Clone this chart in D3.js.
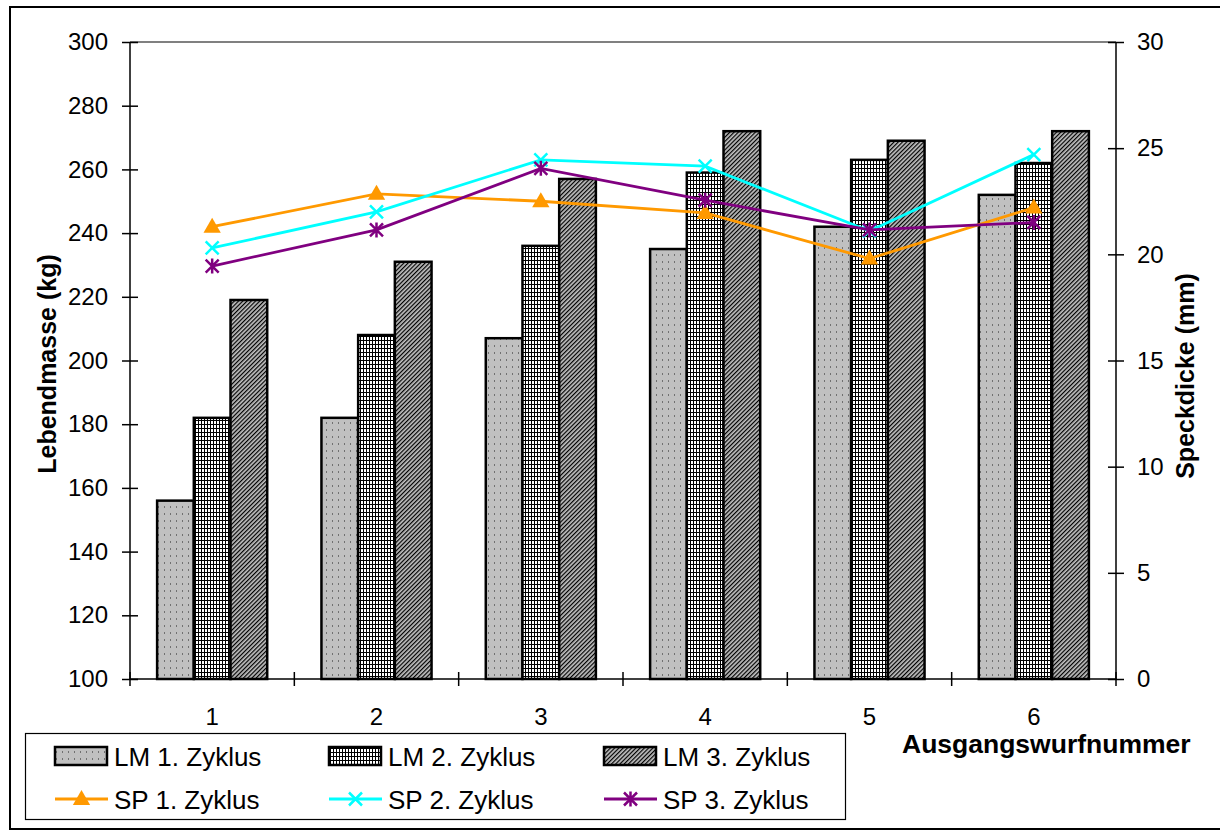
<!DOCTYPE html>
<html>
<head>
<meta charset="utf-8">
<script src="https://cdn.jsdelivr.net/npm/d3@7"></script>
<style>
  html, body { margin: 0; padding: 0; background: #fff; }
  text { font-family: "Liberation Sans", Arial, sans-serif; fill: #000; }
</style>
</head>
<body>
<svg id="chart" width="1220" height="835"></svg>
<script>
// Ausgangswurfnummer (litter number)
const categories = ["1", "2", "3", "4", "5", "6"];

// Lebendmasse (kg) per cycle
const lm1 = [156, 182, 207, 235, 242, 252];
const lm2 = [182, 208, 236, 259, 263, 262];
const lm3 = [219, 231, 257, 272, 269, 272];

// Speckdicke (mm) per cycle
const sp1 = [21.3, 22.85, 22.5, 21.95, 19.8, 22.2];
const sp2 = [20.3, 22.0, 24.45, 24.15, 21.1, 24.7];
const sp3 = [19.45, 21.15, 24.05, 22.55, 21.15, 21.5];

const lmTicks = [100, 120, 140, 160, 180, 200, 220, 240, 260, 280, 300];
const spTicks = [0, 5, 10, 15, 20, 25, 30];

const barSeries = [
  { name: "LM 1. Zyklus", values: lm1, fill: "url(#patDots)" },
  { name: "LM 2. Zyklus", values: lm2, fill: "url(#patGrid)" },
  { name: "LM 3. Zyklus", values: lm3, fill: "url(#patDiag)" }
];
const lineSeries = [
  { name: "SP 1. Zyklus", values: sp1, color: "#FF9900", marker: "triangle" },
  { name: "SP 2. Zyklus", values: sp2, color: "#00FFFF", marker: "x" },
  { name: "SP 3. Zyklus", values: sp3, color: "#800080", marker: "star" }
];

const svg = d3.select("#chart");
const plot = { left: 130, right: 1116, top: 42, bottom: 679 };

// fill patterns
const defs = svg.append("defs");
const pd = defs.append("pattern").attr("id", "patDots").attr("patternUnits", "userSpaceOnUse")
  .attr("width", 6).attr("height", 7);
pd.append("rect").attr("width", 6).attr("height", 7).attr("fill", "#c0c0c0");
pd.append("rect").attr("x", 2).attr("y", 2).attr("width", 1).attr("height", 2).attr("fill", "#707070");

const pg = defs.append("pattern").attr("id", "patGrid").attr("patternUnits", "userSpaceOnUse")
  .attr("width", 3).attr("height", 4);
pg.append("rect").attr("width", 3).attr("height", 4).attr("fill", "#fff");
pg.append("rect").attr("x", 0).attr("y", 0).attr("width", 1).attr("height", 4).attr("fill", "#000");
pg.append("rect").attr("x", 0).attr("y", 0).attr("width", 3).attr("height", 1).attr("fill", "#000");

const pdg = defs.append("pattern").attr("id", "patDiag").attr("patternUnits", "userSpaceOnUse")
  .attr("width", 3).attr("height", 3).attr("patternTransform", "rotate(45)");
pdg.append("rect").attr("width", 3).attr("height", 3).attr("fill", "#c0c0c0");
pdg.append("line").attr("x1", 0.6).attr("y1", 0).attr("x2", 0.6).attr("y2", 3)
  .attr("stroke", "#000").attr("stroke-width", 1.2);

svg.append("rect").attr("width", 1220).attr("height", 835).attr("fill", "#fff");
// outer chart frame
svg.append("rect").attr("x", 10).attr("y", 7).attr("width", 1215).attr("height", 822)
  .attr("fill", "none").attr("stroke", "#000").attr("stroke-width", 2);

// scales
const x = d3.scaleBand().domain(categories).range([plot.left, plot.right]).padding(0);
const bw = x.bandwidth();
const xs = d3.scaleBand().domain(barSeries.map(d => d.name)).range([bw * 0.165, bw * 0.835]).padding(0);
const yL = d3.scaleLinear().domain([100, 300]).range([plot.bottom, plot.top]);
const yR = d3.scaleLinear().domain([0, 30]).range([plot.bottom, plot.top]);

// plot area top border
svg.append("line").attr("x1", plot.left).attr("x2", plot.right)
  .attr("y1", plot.top).attr("y2", plot.top).attr("stroke", "#808080").attr("stroke-width", 2);

// bars
barSeries.forEach(s => {
  svg.append("g").selectAll("rect").data(s.values).join("rect")
    .attr("x", (d, i) => x(categories[i]) + xs(s.name))
    .attr("width", xs.bandwidth())
    .attr("y", d => yL(d))
    .attr("height", d => yL(100) - yL(d))
    .attr("fill", s.fill)
    .attr("stroke", "#000").attr("stroke-width", 2.5);
});

// markers
function drawMarker(g, type, color, cx, cy) {
  if (type === "triangle") {
    g.append("path").attr("d", d3.symbol().type(d3.symbolTriangle).size(130)())
      .attr("transform", `translate(${cx},${cy + 1})`).attr("fill", color);
  } else if (type === "x") {
    const r = 6.5;
    g.append("path").attr("d", `M${cx - r},${cy - r}L${cx + r},${cy + r}M${cx - r},${cy + r}L${cx + r},${cy - r}`)
      .attr("stroke", color).attr("stroke-width", 2.5).attr("fill", "none");
  } else {
    const r = 6.5;
    g.append("path").attr("d", `M${cx - r},${cy - r}L${cx + r},${cy + r}M${cx - r},${cy + r}L${cx + r},${cy - r}M${cx},${cy - r - 1}L${cx},${cy + r + 1}`)
      .attr("stroke", color).attr("stroke-width", 2.5).attr("fill", "none");
  }
}

// lines
const line = d3.line().x((d, i) => x(categories[i]) + bw / 2).y(d => yR(d));
lineSeries.forEach(s => {
  const g = svg.append("g");
  g.append("path").datum(s.values).attr("d", line)
    .attr("fill", "none").attr("stroke", s.color).attr("stroke-width", 2.8);
  s.values.forEach((v, i) => drawMarker(g, s.marker, s.color, x(categories[i]) + bw / 2, yR(v)));
});

// left axis
const axL = svg.append("g").attr("transform", `translate(${plot.left},0)`)
  .call(d3.axisLeft(yL).tickValues(lmTicks).tickSize(8).tickPadding(14).tickFormat(d3.format("d")));
axL.select(".domain").attr("stroke", "#000").attr("stroke-width", 1.5).attr("d", `M0,${plot.top}V${plot.bottom}`);
axL.selectAll(".tick line").attr("x1", -8).attr("x2", 8).attr("stroke-width", 1.5);
axL.selectAll(".tick text").attr("font-size", 24).attr("font-family", "Liberation Sans, Arial, sans-serif");

// right axis
const axR = svg.append("g").attr("transform", `translate(${plot.right},0)`)
  .call(d3.axisRight(yR).tickValues(spTicks).tickSize(8).tickPadding(13).tickFormat(d3.format("d")));
axR.select(".domain").attr("stroke", "#000").attr("stroke-width", 1.5).attr("d", `M0,${plot.top}V${plot.bottom}`);
axR.selectAll(".tick line").attr("x1", -8).attr("x2", 8).attr("stroke-width", 1.5);
axR.selectAll(".tick text").attr("font-size", 24).attr("font-family", "Liberation Sans, Arial, sans-serif");

// bottom axis: labels at centres, tick marks on category borders
const axB = svg.append("g").attr("transform", `translate(0,${plot.bottom})`)
  .call(d3.axisBottom(x).tickSize(0).tickPadding(29));
axB.select(".domain").attr("stroke", "#000").attr("stroke-width", 1.5).attr("d", `M${plot.left},0H${plot.right}`);
axB.selectAll(".tick text").attr("font-size", 24).attr("font-family", "Liberation Sans, Arial, sans-serif");
const borders = categories.map(c => x(c)).concat([plot.right]);
axB.selectAll("line.border").data(borders).join("line").attr("class", "border")
  .attr("x1", d => d).attr("x2", d => d).attr("y1", -7).attr("y2", 7)
  .attr("stroke", "#000").attr("stroke-width", 1.5);

// axis titles
svg.append("text").attr("transform", `translate(56,364) rotate(-90)`)
  .attr("text-anchor", "middle").attr("font-size", 25).attr("font-weight", "bold")
  .text("Lebendmasse (kg)");
svg.append("text").attr("transform", `translate(1194,376) rotate(-90)`)
  .attr("text-anchor", "middle").attr("font-size", 25).attr("font-weight", "bold")
  .text("Speckdicke (mm)");
svg.append("text").attr("x", 902).attr("y", 753)
  .attr("font-size", 26.5).attr("font-weight", "bold")
  .text("Ausgangswurfnummer");

// legend
const lg = svg.append("g");
lg.append("rect").attr("x", 25.5).attr("y", 733.5).attr("width", 820).attr("height", 86)
  .attr("fill", "#fff").attr("stroke", "#000").attr("stroke-width", 1.2);
const colX = [55, 329, 604];
barSeries.forEach((s, i) => {
  lg.append("rect").attr("x", colX[i]).attr("y", 747).attr("width", 52).attr("height", 18)
    .attr("fill", s.fill).attr("stroke", "#000").attr("stroke-width", 2.5);
  lg.append("text").attr("x", colX[i] + 59).attr("y", 766).attr("font-size", 26).text(s.name);
});
lineSeries.forEach((s, i) => {
  const g = lg.append("g");
  g.append("line").attr("x1", colX[i]).attr("x2", colX[i] + 53).attr("y1", 799).attr("y2", 799)
    .attr("stroke", s.color).attr("stroke-width", 2.8);
  drawMarker(g, s.marker, s.color, colX[i] + 26.5, 799);
  lg.append("text").attr("x", colX[i] + 59).attr("y", 809).attr("font-size", 26).text(s.name);
});
</script>
</body>
</html>
